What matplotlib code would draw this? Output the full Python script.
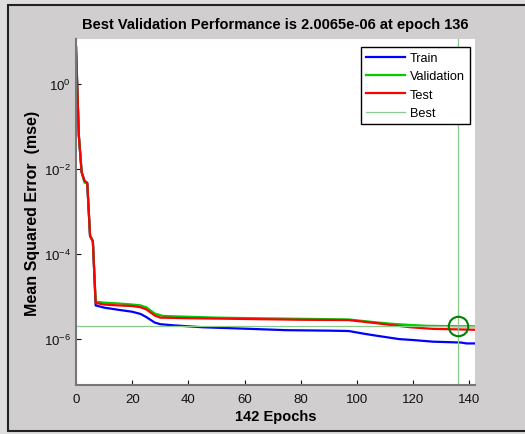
import numpy as np
import matplotlib
matplotlib.use("Agg")
import matplotlib.pyplot as plt
from matplotlib.patches import Rectangle

plt.rcParams['font.family'] = ['Liberation Sans', 'DejaVu Sans']
plt.rcParams['mathtext.fontset'] = 'custom'
plt.rcParams['mathtext.rm'] = 'Liberation Sans'
plt.rcParams['mathtext.it'] = 'Liberation Sans'

# values (epoch, mse)
train_epochs = [0, 1, 2, 3, 4, 5, 6, 7, 10, 15, 20, 23, 25, 28, 30, 35, 45, 62, 75, 90, 97,
                103, 107, 115, 120, 127, 137, 139, 142]
train_mse = [7.5, 6.3e-2, 8.5e-3, 5.3e-3, 4.7e-3, 2.7e-4, 2.0e-4, 6.2e-6, 5.5e-6, 4.9e-6,
             4.4e-6, 3.9e-6, 3.3e-6, 2.45e-6, 2.24e-6, 2.1e-6, 1.9e-6, 1.74e-6, 1.62e-6,
             1.58e-6, 1.55e-6, 1.32e-6, 1.2e-6, 1.0e-6, 9.5e-7, 8.7e-7, 8.3e-7, 7.9e-7, 7.9e-7]

val_epochs = [0, 1, 2, 3, 4, 5, 6, 7, 10, 15, 20, 23, 25, 28, 31, 37, 50, 64, 80, 97,
              105, 112, 119, 125, 136, 142]
val_mse = [7.5, 6.3e-2, 8.5e-3, 4.8e-3, 4.7e-3, 2.7e-4, 2.0e-4, 7.6e-6, 7.2e-6, 6.9e-6,
           6.5e-6, 6.2e-6, 5.6e-6, 4.0e-6, 3.5e-6, 3.4e-6, 3.2e-6, 3.1e-6, 3.0e-6, 2.9e-6,
           2.55e-6, 2.3e-6, 2.15e-6, 2.05e-6, 2.0065e-6, 2.0e-6]

test_epochs = [0, 1, 2, 3, 4, 5, 6, 7, 10, 15, 20, 23, 25, 28, 30, 40, 64, 80, 97,
               105, 112, 119, 127, 142]
test_mse = [7.5, 6.3e-2, 8.5e-3, 5.3e-3, 4.7e-3, 2.7e-4, 2.0e-4, 7.1e-6, 6.5e-6, 6.2e-6,
            6.0e-6, 5.6e-6, 5.0e-6, 3.6e-6, 3.2e-6, 3.1e-6, 2.95e-6, 2.85e-6, 2.8e-6,
            2.45e-6, 2.15e-6, 1.9e-6, 1.74e-6, 1.66e-6]

best_epoch = 136
best_perf = 2.0065e-6
n_epochs = 142

ytick_vals = [1e0, 1e-2, 1e-4, 1e-6]
ytick_labels = ['$10^{0}$', '$10^{-2}$', '$10^{-4}$', '$10^{-6}$']
xtick_vals = [0, 20, 40, 60, 80, 100, 120, 140]

fig = plt.figure(figsize=(5.25, 4.35), dpi=100)
fig.patch.set_facecolor('#dedede')
# window frame
fig.add_artist(Rectangle((8 / 525, 1 - 432 / 435), 1.2, (432 - 6) / 435,
                         transform=fig.transFigure, facecolor='#d0cece',
                         edgecolor='#222222', linewidth=1.5, zorder=-1))

ax = fig.add_axes([76 / 525, 1 - 386 / 435, 399 / 525, 346 / 435])
ax.set_facecolor('white')

ax.semilogy(train_epochs, train_mse, color='#0000ff', lw=1.6, label='Train')
ax.semilogy(val_epochs, val_mse, color='#00cc00', lw=1.6, label='Validation')
ax.semilogy(test_epochs, test_mse, color='#ff0000', lw=1.6, label='Test')
ax.axhline(best_perf, color='#8cc98c', lw=0.9, label='Best')
ax.axvline(best_epoch, color='#8cc98c', lw=0.9)
ax.plot([best_epoch], [best_perf], 'o', mfc='none', mec='#008000', ms=14, mew=1.5)

ax.set_xlim(0, n_epochs)
ax.set_ylim(10 ** -7.08, 10 ** 1.06)
ax.set_yticks(ytick_vals)
ax.set_yticklabels(ytick_labels)
ax.minorticks_off()
ax.set_xticks(xtick_vals)
ax.tick_params(direction='in', length=3.5, labelsize=9.5, colors='#111111', width=0.8)
ax.tick_params(axis='x', pad=6)

for s in ['top', 'right']:
    ax.spines[s].set_visible(False)
for s in ['left', 'bottom']:
    ax.spines[s].set_color('#777777')
    ax.spines[s].set_linewidth(1.5)

ax.set_xlabel('142 Epochs', fontsize=10.5, fontweight='bold', labelpad=3)
ax.set_ylabel('Mean Squared Error  (mse)', fontsize=11.5, fontweight='bold', labelpad=3)
fig.text(275 / 525, 1 - 25 / 435, 'Best Validation Performance is 2.0065e-06 at epoch 136',
         ha='center', va='center', fontsize=10.5, fontweight='bold')

leg = ax.legend(loc='upper right', bbox_to_anchor=(0.9875, 0.977), borderaxespad=0,
                fontsize=9.2, handlelength=3.0, fancybox=False, framealpha=1,
                edgecolor='black', labelspacing=0.5, handletextpad=0.4)
leg.get_frame().set_linewidth(1.0)

fig.savefig('out.png', dpi=100, facecolor=fig.get_facecolor())
